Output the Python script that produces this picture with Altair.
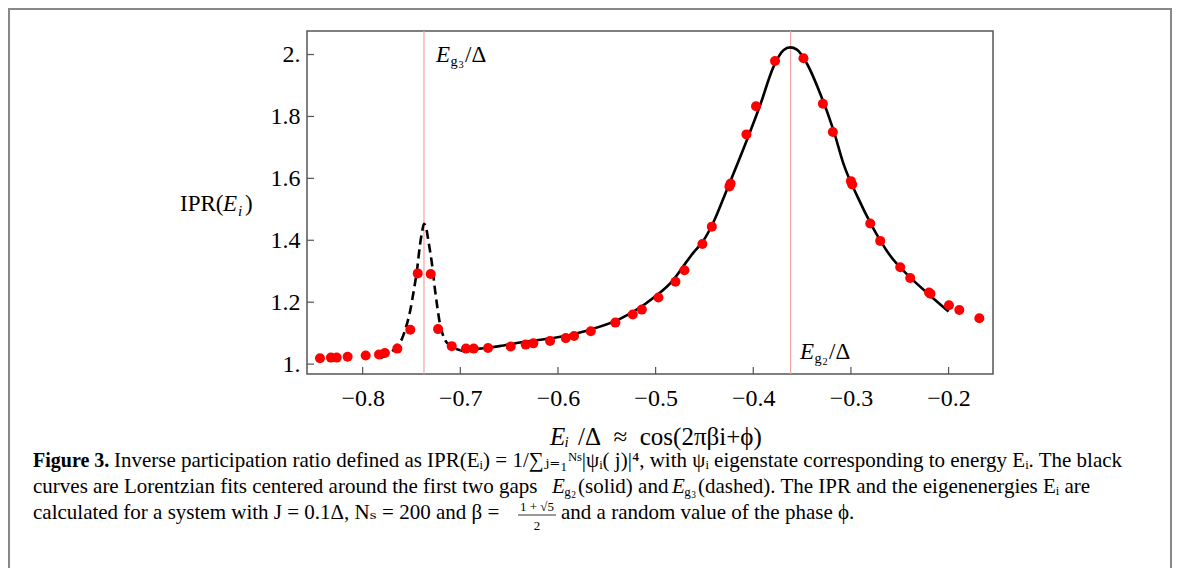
import altair as alt
import pandas as pd

# ---------------- data ----------------
ipr_E = [-0.8437, -0.8325, -0.8266, -0.8154, -0.7969, -0.7833, -0.7772, -0.7645,
         -0.7512, -0.7436, -0.7303, -0.7228, -0.7088, -0.6942, -0.6863, -0.6716,
         -0.6484, -0.6330, -0.6252, -0.6081, -0.5920, -0.5835, -0.5664, -0.5412,
         -0.5234, -0.5141, -0.4971, -0.4797, -0.4705, -0.4521, -0.4424, -0.4244,
         -0.4232, -0.4070, -0.3972, -0.3777, -0.3486, -0.3287, -0.3185, -0.3000,
         -0.2987, -0.2802, -0.2700, -0.2495, -0.2393, -0.2200, -0.2185, -0.1996,
         -0.1890, -0.1685]
ipr_val = [1.019, 1.021, 1.021, 1.024, 1.028, 1.031, 1.036, 1.050,
           1.111, 1.293, 1.291, 1.113, 1.058, 1.050, 1.050, 1.052,
           1.057, 1.063, 1.067, 1.075, 1.084, 1.091, 1.106, 1.134,
           1.160, 1.176, 1.215, 1.266, 1.303, 1.388, 1.444, 1.574,
           1.583, 1.742, 1.833, 1.979, 1.988, 1.841, 1.750, 1.591,
           1.580, 1.454, 1.398, 1.313, 1.278, 1.231, 1.227, 1.190,
           1.175, 1.148]

# Lorentzian fit around E_g2 (solid)
fit_g2_E = [-0.700, -0.680, -0.660, -0.6388, -0.620, -0.6047, -0.5705, -0.5364,
            -0.5022, -0.4818, -0.4708, -0.4613, -0.451, -0.442, -0.4273, -0.4066,
            -0.3930, -0.3793, -0.3691, -0.3621, -0.3553, -0.3451, -0.3315, -0.3178,
            -0.3076, -0.2939, -0.2768, -0.2597, -0.2393, -0.2187, -0.2000]
fit_g2_val = [1.043, 1.050, 1.058, 1.070, 1.078, 1.084, 1.108, 1.146,
              1.214, 1.272, 1.320, 1.360, 1.399, 1.450, 1.561, 1.723,
              1.836, 1.960, 2.014, 2.023, 2.016, 1.971, 1.874, 1.755,
              1.647, 1.545, 1.437, 1.350, 1.280, 1.221, 1.170]

# Lorentzian fit around E_g3 (dashed)
fit_g3_E = [-0.782, -0.776, -0.770, -0.765, -0.760, -0.7565, -0.7515, -0.7475,
            -0.7445, -0.7413, -0.739, -0.7372, -0.735, -0.7328, -0.7293, -0.7259,
            -0.7208, -0.716, -0.710, -0.705, -0.700]
fit_g3_val = [1.019, 1.028, 1.040, 1.060, 1.080, 1.110, 1.170, 1.240,
              1.300, 1.385, 1.430, 1.453, 1.440, 1.400, 1.330, 1.240,
              1.130, 1.080, 1.060, 1.050, 1.045]

gap_names = ["g3", "g2"]
gap_E = [-0.7372, -0.3618]

x_ticks = [-0.8, -0.7, -0.6, -0.5, -0.4, -0.3, -0.2]
y_ticks = [1.0, 1.2, 1.4, 1.6, 1.8, 2.0]

# ---------------- layout ----------------
W, H = 686, 343
PAD_L, PAD_T, PAD_R, PAD_B = 299, 23, 181, 194
SERIF = "Liberation Serif, DejaVu Serif, serif"
FS = 24


def px(page_x):
    return page_x - 8 - PAD_L


def py(page_y):
    return page_y - 8 - PAD_T


xs = alt.Scale(domain=[-0.857, -0.1545], nice=False, zero=False)
ys = alt.Scale(domain=[0.968, 2.076], nice=False, zero=False)

pts = pd.DataFrame({"E": ipr_E, "IPR": ipr_val})
f2 = pd.DataFrame({"E": fit_g2_E, "IPR": fit_g2_val})
f3 = pd.DataFrame({"E": fit_g3_E, "IPR": fit_g3_val})
gaps = pd.DataFrame({"gap": gap_names, "E": gap_E})
xt = pd.DataFrame({"v": x_ticks})
yt = pd.DataFrame({"v": y_ticks})

y_label_expr = ("datum.value == 2 ? '2.' : (datum.value == 1 ? '1.' : format(datum.value, '.1f'))")

gap_lines = alt.Chart(gaps).mark_rule(color="#f5a3a3", strokeWidth=1.2).encode(
    x=alt.X("E:Q", scale=xs,
            axis=alt.Axis(values=x_ticks, format=".1f", title=None, grid=False, domain=False,
                          ticks=False, tickSize=0, labelPadding=12, labelFont=SERIF,
                          labelFontSize=FS, labelColor="black")),
)

base_y_axis = alt.Axis(values=y_ticks, labelExpr=y_label_expr, title=None, grid=False,
                       domain=False, ticks=False, tickSize=0, labelPadding=7,
                       labelFont=SERIF, labelFontSize=FS, labelColor="black")

line2 = alt.Chart(f2).mark_line(color="black", strokeWidth=2.6, interpolate="monotone").encode(
    x=alt.X("E:Q", scale=xs),
    y=alt.Y("IPR:Q", scale=ys, axis=base_y_axis),
)
line3 = alt.Chart(f3).mark_line(color="black", strokeWidth=2.6, strokeDash=[9, 5],
                                interpolate="monotone").encode(
    x=alt.X("E:Q", scale=xs),
    y=alt.Y("IPR:Q", scale=ys),
)
points = alt.Chart(pts).mark_circle(color="#ff0000", size=100, opacity=1).encode(
    x=alt.X("E:Q", scale=xs),
    y=alt.Y("IPR:Q", scale=ys),
)

xtick_marks = alt.Chart(xt).mark_rule(color="#555555", strokeWidth=1.2).encode(
    x=alt.X("v:Q", scale=xs), y=alt.value(H), y2=alt.value(H - 7))
ytick_marks = alt.Chart(yt).mark_rule(color="#555555", strokeWidth=1.2).encode(
    y=alt.Y("v:Q", scale=ys), x=alt.value(0), x2=alt.value(7))

ONE = alt.Data(values=[{}])


def txt(text, page_x, page_y, size=FS, style="normal", weight="normal", align="left"):
    return alt.Chart(ONE).mark_text(text=text, align=align, baseline="alphabetic",
                                    fontSize=size, fontStyle=style, fontWeight=weight,
                                    font=SERIF, color="black").encode(
        x=alt.value(px(page_x)), y=alt.value(py(page_y)))


def e_gap(page_x, page_y, digit, size=22, scale=1.0):
    return [
        txt("E", page_x, page_y, size, "italic"),
        txt("g", page_x + 14.5 * scale, page_y + 4 * scale, size * 0.62),
        txt(digit, page_x + 22.5 * scale, page_y + 6 * scale, size * 0.45),
    ]


texts = []
# gap annotations
texts += e_gap(436, 62, "3", 23)
texts.append(txt("/Δ", 465, 62, 23))
texts += e_gap(800, 358.5, "2", 23)
texts.append(txt("/Δ", 829, 358.5, 23))
# y axis title
texts.append(txt("IPR(", 180, 211, 23))
texts.append(txt("E", 223, 211, 23, "italic"))
texts.append(txt("i", 238, 216, 15, "italic"))
texts.append(txt(")", 245, 211, 23))
# x axis title
texts.append(txt("Eᵢ", 550, 445, 25, "italic"))
texts.append(txt("/Δ\u2002≈\u2002cos(2πβi+ϕ)", 578, 445, 25))

# caption
CS = 21
texts.append(txt("Figure 3.", 33, 467, 20, weight="bold"))
texts.append(txt("Inverse participation ratio defined as IPR(Eᵢ) = 1/∑ⱼ₌₁ᴺˢ|ψᵢ( j)|⁴, with ψᵢ eigenstate "
                 "corresponding to energy Eᵢ. The black", 114, 467, CS))
texts.append(txt("curves are Lorentzian fits centered around the first two gaps", 33, 493, CS))
texts += e_gap(552, 493, "2", CS, 0.85)
texts.append(txt("(solid) and", 578, 493, CS))
texts += e_gap(672, 493, "3", CS, 0.85)
texts.append(txt("(dashed). The IPR and the eigenenergies Eᵢ are", 698, 493, CS))
texts.append(txt("calculated for a system with J = 0.1Δ, Nₛ = 200 and β =", 33, 519, CS))
texts.append(txt("1 + √5", 537, 511, 13, align="center"))
texts.append(txt("2", 537, 530, 13, align="center"))
texts.append(txt("and a random value of the phase ϕ.", 561, 519, CS))

frac_bar = alt.Chart(ONE).mark_rule(color="black", strokeWidth=0.8).encode(
    x=alt.value(px(518)), x2=alt.value(px(556)), y=alt.value(py(515)))

# outer figure frame (grey border)
frame_top = alt.Chart(ONE).mark_rule(color="#888888", strokeWidth=2).encode(
    x=alt.value(px(8)), x2=alt.value(px(1172)), y=alt.value(py(9)))
frame_left = alt.Chart(ONE).mark_rule(color="#888888", strokeWidth=2).encode(
    x=alt.value(px(9)), y=alt.value(py(9)), y2=alt.value(py(570)))
frame_right = alt.Chart(ONE).mark_rule(color="#888888", strokeWidth=2).encode(
    x=alt.value(px(1171)), y=alt.value(py(9)), y2=alt.value(py(570)))

chart = alt.layer(
    gap_lines, line2, line3, points, xtick_marks, ytick_marks, frac_bar,
    frame_top, frame_left, frame_right, *texts
).properties(
    width=W, height=H,
    autosize=alt.AutoSizeParams(type="none"),
    padding={"left": PAD_L, "top": PAD_T, "right": PAD_R, "bottom": PAD_B},
    background="white",
).configure_view(
    stroke="#555555", strokeWidth=1.5
)

chart.save("out.html", embed_options={"renderer": "svg", "actions": False})
